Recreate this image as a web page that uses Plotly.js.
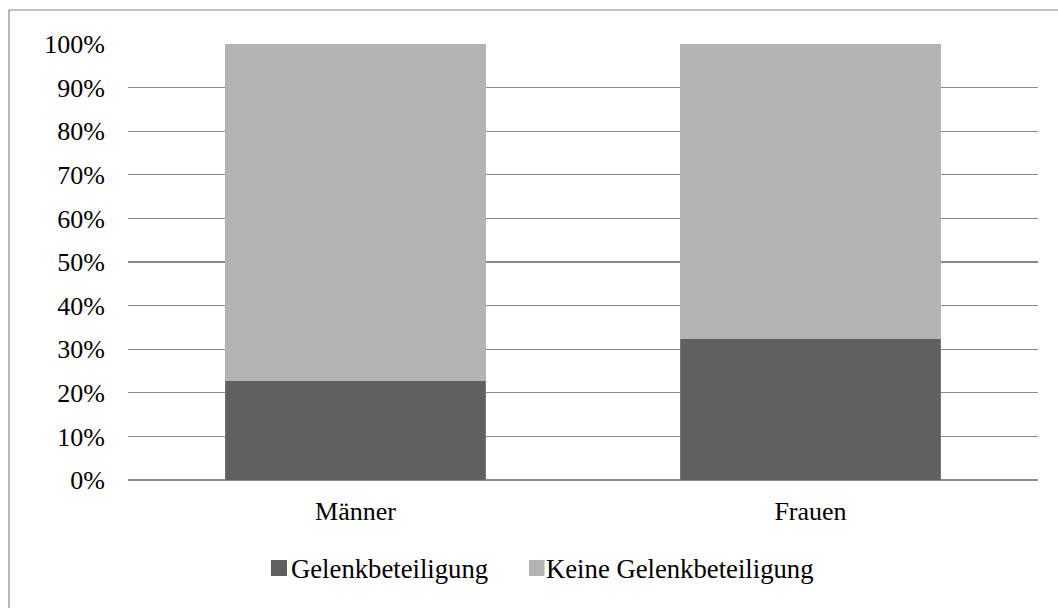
<!DOCTYPE html>
<html>
<head>
<meta charset="utf-8">
<script src="https://cdn.plot.ly/plotly-3.0.1.min.js"></script>
<style>html,body{margin:0;padding:0;background:#fff;}#chart{width:1058px;height:608px;}</style>
</head>
<body>
<div id="chart"></div>
<script>
const categories = ["Männer", "Frauen"];
const seriesNames = ["Gelenkbeteiligung", "Keine Gelenkbeteiligung"];
const seriesColors = ["#606060", "#b3b3b3"];
const gelenk = [22.8, 32.4];
const keine = [77.2, 67.6];
const yTicks = [0, 10, 20, 30, 40, 50, 60, 70, 80, 90, 100];

const font = {family: "'Liberation Serif', 'Times New Roman', serif", size: 26, color: "#000"};
const legFont = {family: "'Liberation Serif', 'Times New Roman', serif", size: 26.7, color: "#000"};

const traces = [
  {type: "bar", name: seriesNames[0], x: categories, y: gelenk,
   marker: {color: seriesColors[0], line: {color: "#777777", width: 1}}, hoverinfo: "none"},
  {type: "bar", name: seriesNames[1], x: categories, y: keine,
   marker: {color: seriesColors[1], line: {width: 0}}, hoverinfo: "none"}
];

// custom legend (compact, symbol close to text as in the reference)
const legendSym = [[0.1571, 0.1747], [0.4407, 0.4577]];
const legendTextX = [0.1780, 0.4582];
const legY0 = -0.2202, legY1 = -0.1835, legTextY = -0.2030;

const shapes = [
  {type: "line", xref: "paper", yref: "paper", x0: -0.1308, x1: -0.1308, y0: 1.078, y1: -0.35,
   line: {color: "#888", width: 1.2}},
  {type: "line", xref: "paper", yref: "paper", x0: -0.1308, x1: 1.1, y0: 1.078, y1: 1.078,
   line: {color: "#888", width: 1.2}}
];
const annotations = [];
seriesNames.forEach((n, i) => {
  shapes.push({type: "rect", xref: "paper", yref: "paper",
    x0: legendSym[i][0], x1: legendSym[i][1], y0: legY0, y1: legY1,
    fillcolor: seriesColors[i], line: {width: 0}});
  annotations.push({xref: "paper", yref: "paper", x: legendTextX[i], y: legTextY,
    xanchor: "left", yanchor: "middle", showarrow: false, text: n, font: legFont, borderpad: 0});
});

const layout = {
  width: 1058, height: 608,
  margin: {l: 128, r: 20, t: 44, b: 128},
  paper_bgcolor: "#fff", plot_bgcolor: "#fff",
  barmode: "stack", bargap: 0.428,
  font: font,
  showlegend: false,
  xaxis: {type: "category", showgrid: false, showline: false, ticks: "",
          ticklabelstandoff: 13, tickfont: font, fixedrange: true},
  yaxis: {range: [0, 100], tickvals: yTicks, ticktext: yTicks.map(v => v + "%"),
          showgrid: true, gridcolor: "#8a8a8a", gridwidth: 1.3,
          zeroline: true, zerolinecolor: "#8a8a8a", zerolinewidth: 1.3,
          showline: false, ticks: "", ticklabelstandoff: 22, tickfont: font, fixedrange: true},
  shapes: shapes,
  annotations: annotations
};

Plotly.newPlot("chart", traces, layout, {displayModeBar: false, staticPlot: true});
</script>
</body>
</html>
